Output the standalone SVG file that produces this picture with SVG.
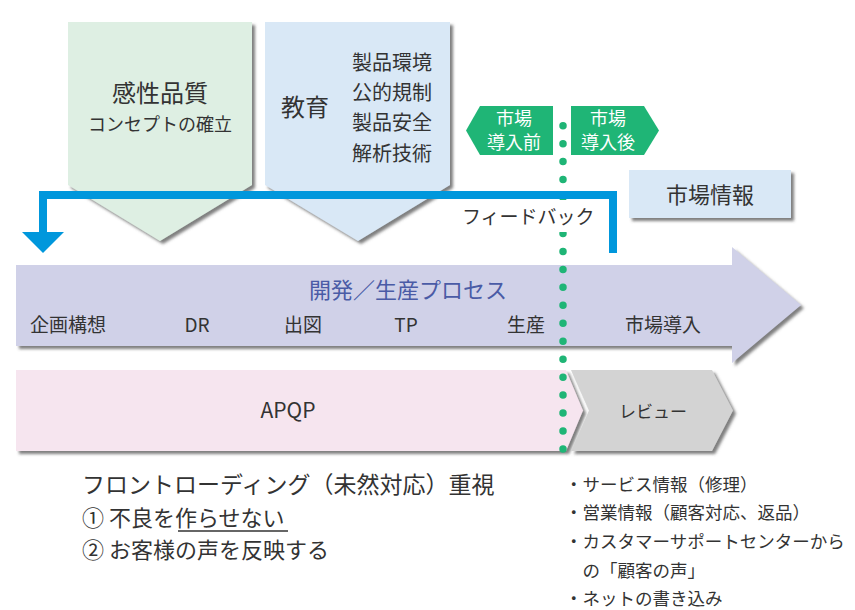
<svg xmlns="http://www.w3.org/2000/svg" width="855" height="610" viewBox="0 0 855 610">
<defs>
<filter id="sh" x="-10%" y="-10%" width="130%" height="130%">
<feDropShadow dx="3" dy="3" stdDeviation="1.5" flood-color="#555" flood-opacity="0.75"/>
</filter>
<style>
text{font-family:"Noto Sans CJK JP","Noto Sans",sans-serif;fill:#333;}
.c{text-anchor:middle;}
.w{fill:#fff;}
</style>
</defs>
<rect width="855" height="610" fill="#fff"/>

<g id="kansei">
<polygon points="68,22 252,22 252,185 160,241 68,185" fill="#deefe3" filter="url(#sh)"/>
<text class="c" x="160" y="102" font-size="24">感性品質</text>
<text class="c" x="160" y="131" font-size="18">コンセプトの確立</text>
</g>

<g id="kyoiku">
<polygon points="265,22 450,22 450,185 358,241 265,185" fill="#d9e8f6" filter="url(#sh)"/>
<text x="281" y="116" font-size="24">教育</text>
<text x="352" y="70" font-size="20">製品環境</text>
<text x="352" y="100" font-size="20">公的規制</text>
<text x="352" y="130" font-size="20">製品安全</text>
<text x="352" y="161" font-size="20">解析技術</text>
</g>

<g id="market-info">
<rect x="629" y="170" width="162" height="48" fill="#d9e8f6" filter="url(#sh)"/>
<text class="c" x="710" y="203" font-size="22">市場情報</text>
</g>

<g id="tag-before">
<polygon points="466,130.5 480,106 553,106 553,155 480,155" fill="#1fb576"/>
<text class="c w" x="514" y="125" font-size="18">市場</text>
<text class="c w" x="514" y="149" font-size="18">導入前</text>
</g>

<g id="tag-after">
<polygon points="571,106 644,106 659,130.5 644,155 571,155" fill="#1fb576"/>
<text class="c w" x="608" y="125" font-size="18">市場</text>
<text class="c w" x="608" y="149" font-size="18">導入後</text>
</g>

<g id="process">
<polygon points="16,265 732,265 732,247 801,305 732,363 732,346 16,346" fill="#d0d1e8" filter="url(#sh)"/>
<text class="c" x="408" y="298" font-size="22" style="fill:#4a5ba6">開発／生産プロセス</text>
<text x="30" y="332" font-size="19">企画構想</text>
<text class="c" x="197" y="332" font-size="19">DR</text>
<text class="c" x="303" y="332" font-size="19">出図</text>
<text class="c" x="406" y="332" font-size="19">TP</text>
<text class="c" x="526" y="332" font-size="19">生産</text>
<text class="c" x="663" y="332" font-size="19">市場導入</text>
</g>

<g id="apqp">
<polygon points="16,370 566,370 583,410.5 566,451 16,451" fill="#f6e5ef" filter="url(#sh)"/>
<text class="c" x="288" y="418" font-size="21">APQP</text>
</g>

<g id="review">
<polygon points="571,370 712,370 733,410.5 712,451 571,451 589,410.5" fill="#d3d3d3" filter="url(#sh)"/>
<text class="c" x="653" y="418" font-size="17">レビュー</text>
</g>

<g id="market-line">
<line x1="563" y1="125.7" x2="563" y2="449" stroke="#1fb576" stroke-width="7.5" stroke-linecap="round" stroke-dasharray="0 17.96"/>
</g>

<g id="connectors">
<path d="M613,253 V195 H43 V233" fill="none" stroke="#0097dc" stroke-width="8" stroke-linejoin="miter"/>
<polygon points="22,232 64,232 43,253" fill="#0097dc"/>
</g>

<g id="feedback-label">
<rect x="458" y="200" width="150" height="32" fill="#fff"/>
<text x="462" y="224" font-size="19">フィードバック</text>
</g>

<g id="notes">
<text x="82" y="493" font-size="23">フロントローディング（未然対応）重視</text>
<text x="82" y="526" font-size="22">① 不良を作らせない</text>
<line x1="178" y1="531" x2="288" y2="531" stroke="#333" stroke-width="1.3"/>
<text x="82" y="558" font-size="22">② お客様の声を反映する</text>
</g>

<g id="market-notes">
<text x="565" y="491" font-size="17.5">・サービス情報（修理）</text>
<text x="565" y="519" font-size="17.5">・営業情報（顧客対応、返品）</text>
<text x="565" y="548" font-size="17.5">・カスタマーサポートセンターから</text>
<text x="582.5" y="577" font-size="17.5">の「顧客の声」</text>
<text x="565" y="605" font-size="17.5">・ネットの書き込み</text>
</g>
</svg>
